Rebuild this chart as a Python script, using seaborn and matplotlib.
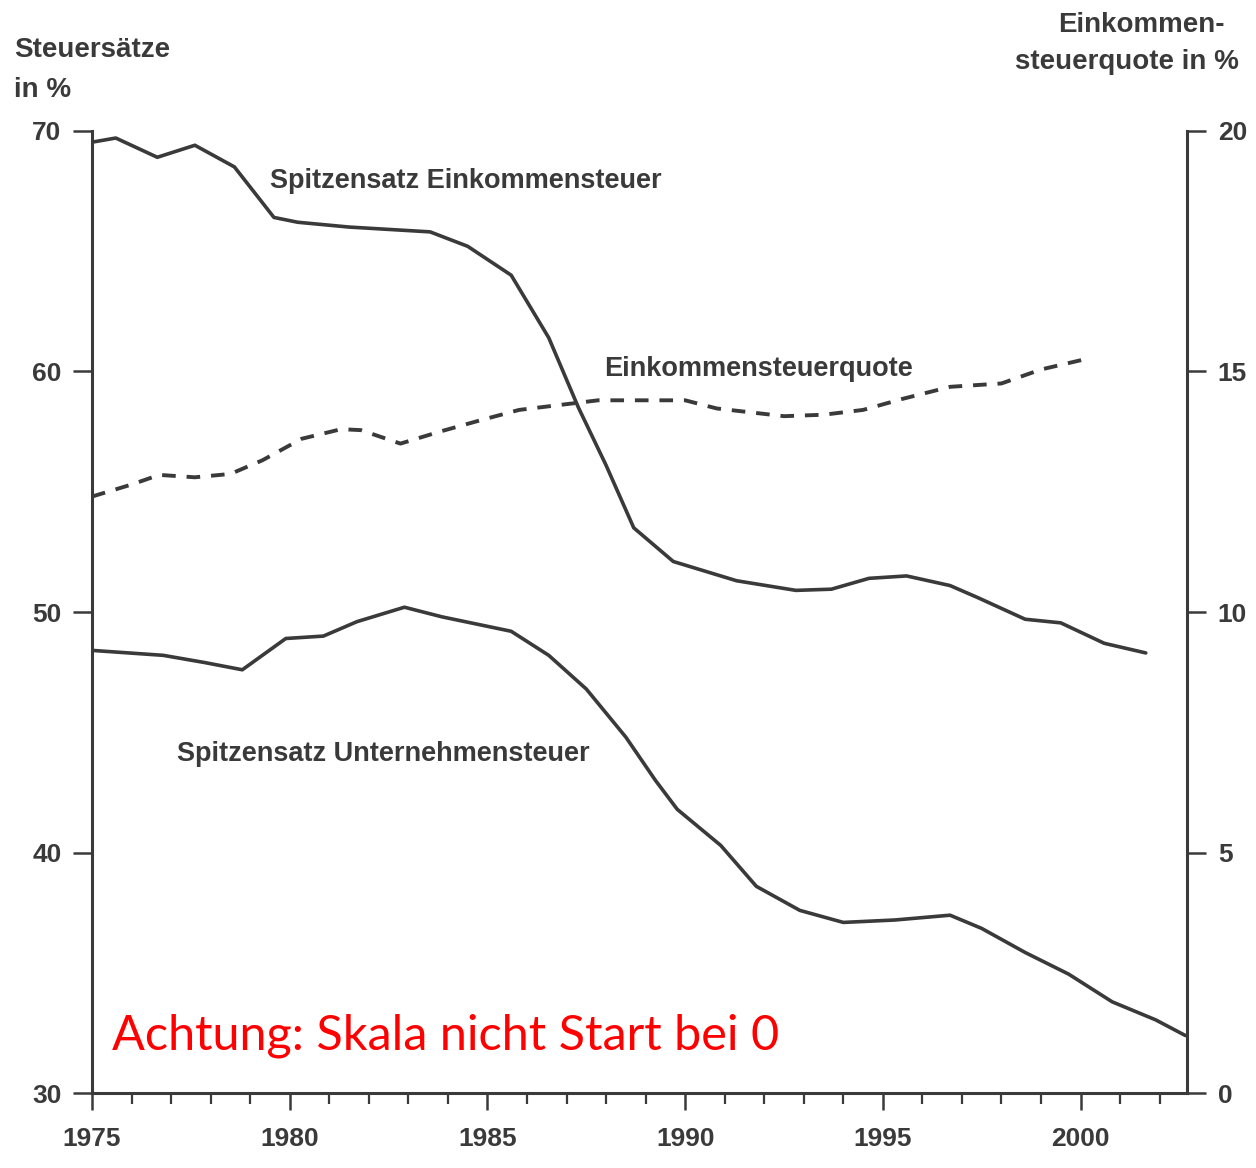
import matplotlib
matplotlib.use("Agg")
import matplotlib.pyplot as plt
import seaborn as sns
import pandas as pd

# --- data ---
est_years = [1974.9, 1975.6, 1976.65, 1977.6, 1978.6, 1979.6, 1980.2, 1981.5, 1983.55, 1984.5,
             1985.6, 1986.55, 1987.3, 1988.0, 1988.7, 1989.7, 1991.3, 1992.8, 1993.7, 1994.65,
             1995.6, 1996.7, 1997.4, 1998.6, 1999.5, 2000.6, 2001.65]
est_rate = [69.5, 69.7, 68.9, 69.4, 68.5, 66.4, 66.2, 66.0, 65.8, 65.2,
            64.0, 61.4, 58.5, 56.1, 53.5, 52.1, 51.3, 50.9, 50.95, 51.4,
            51.5, 51.1, 50.6, 49.7, 49.55, 48.7, 48.3]

ust_years = [1975.05, 1976.8, 1977.85, 1978.8, 1979.9, 1980.85, 1981.7, 1982.9, 1983.85, 1985.6,
             1986.55, 1987.5, 1988.5, 1989.25, 1989.8, 1990.9, 1991.8, 1992.9, 1994.0, 1995.3,
             1996.7, 1997.5, 1998.6, 1999.7, 2000.8, 2001.9, 2002.65]
ust_rate = [48.4, 48.2, 47.9, 47.6, 48.9, 49.0, 49.6, 50.2, 49.8, 49.2,
            48.2, 46.8, 44.8, 43.0, 41.8, 40.3, 38.6, 37.6, 37.1, 37.2,
            37.4, 36.85, 35.85, 34.95, 33.8, 33.05, 32.4]

quote_years = [1975.0, 1976.0, 1976.7, 1977.6, 1978.5, 1979.3, 1980.3, 1981.3, 1981.8, 1982.8,
               1983.8, 1984.8, 1985.8, 1986.8, 1987.8, 1989.0, 1990.0, 1990.8, 1992.5, 1993.5,
               1994.5, 1995.5, 1996.7, 1998.0, 1999.0, 2000.2]
quote_val = [12.4, 12.65, 12.85, 12.8, 12.87, 13.15, 13.6, 13.8, 13.78, 13.5,
             13.75, 13.98, 14.2, 14.3, 14.4, 14.4, 14.4, 14.23, 14.07, 14.1,
             14.2, 14.43, 14.68, 14.75, 15.04, 15.27]

x_ticks = [1975, 1980, 1985, 1990, 1995, 2000]
left_ticks = [30, 40, 50, 60, 70]
right_ticks = [0, 5, 10, 15, 20]

df_est = pd.DataFrame({"Jahr": est_years, "Wert": est_rate})
df_ust = pd.DataFrame({"Jahr": ust_years, "Wert": ust_rate})
df_q = pd.DataFrame({"Jahr": quote_years, "Wert": quote_val})

sns.set_theme(style="white")
plt.rcParams["font.family"] = ["Liberation Sans", "DejaVu Sans"]

ink = "#3a3a3a"
fig = plt.figure(figsize=(12.56, 11.68), dpi=100)
ax = fig.add_axes([0.0733, 0.064, 0.872, 0.824])
ax2 = ax.twinx()

sns.lineplot(data=df_est, x="Jahr", y="Wert", ax=ax, color=ink, linewidth=2.6, sort=False)
sns.lineplot(data=df_ust, x="Jahr", y="Wert", ax=ax, color=ink, linewidth=2.6, sort=False)
sns.lineplot(data=df_q, x="Jahr", y="Wert", ax=ax2, color=ink, linewidth=2.8,
             linestyle=(0, (3.5, 2.8)), sort=False)

ax.set_xlim(1975, 2002.7)
ax.set_ylim(30, 70)
ax2.set_ylim(0, 20)

for a in (ax, ax2):
    a.set_xlabel("")
    a.set_ylabel("")
    a.spines["top"].set_visible(False)
    for s in ("left", "right", "bottom"):
        a.spines[s].set_color(ink)
        a.spines[s].set_linewidth(2.2)
ax.spines["right"].set_visible(False)
ax2.spines["left"].set_visible(False)
ax2.spines["bottom"].set_visible(False)

ax.set_xticks(x_ticks)
ax.set_xticks(range(1975, 2003), minor=True)
ax.set_yticks(left_ticks)
ax2.set_yticks(right_ticks)

tick_font = dict(labelsize=19, labelcolor=ink, colors=ink, width=1.8)
ax.tick_params(axis="x", which="major", direction="out", length=12, bottom=True, pad=12, **tick_font)
ax.tick_params(axis="x", which="minor", direction="out", length=8, bottom=True, width=1.6, colors=ink)
ax.tick_params(axis="y", which="major", direction="out", length=14, left=True, pad=8, **tick_font)
ax2.tick_params(axis="y", which="major", direction="out", length=14, right=True, pad=8, **tick_font)
for lab in ax.get_xticklabels() + ax.get_yticklabels() + ax2.get_yticklabels():
    lab.set_fontweight("bold")

ax.grid(False)
ax2.grid(False)

lab_kw = dict(fontsize=19.5, color=ink, fontweight="bold", va="center", ha="left")
ax.text(1979.5, 67.9, "Spitzensatz Einkommensteuer", **lab_kw)
ax.text(1987.95, 60.1, "Einkommensteuerquote", **lab_kw)
ax.text(1977.15, 44.1, "Spitzensatz Unternehmensteuer", **lab_kw)

ax.text(1975.5, 32.4, "Achtung: Skala nicht Start bei 0", fontsize=35, color="#ff0000",
        family=["Lato", "DejaVu Sans"], va="center", ha="left")

hdr_kw = dict(fontsize=20, color=ink, fontweight="bold", va="center")
fig.text(0.011, 0.957, "Steuersätze", ha="left", **hdr_kw)
fig.text(0.011, 0.923, "in %", ha="left", **hdr_kw)
fig.text(0.975, 0.979, "Einkommen-", ha="right", **hdr_kw)
fig.text(0.986, 0.947, "steuerquote in %", ha="right", **hdr_kw)

fig.savefig("out.png", dpi=100, facecolor="white")
